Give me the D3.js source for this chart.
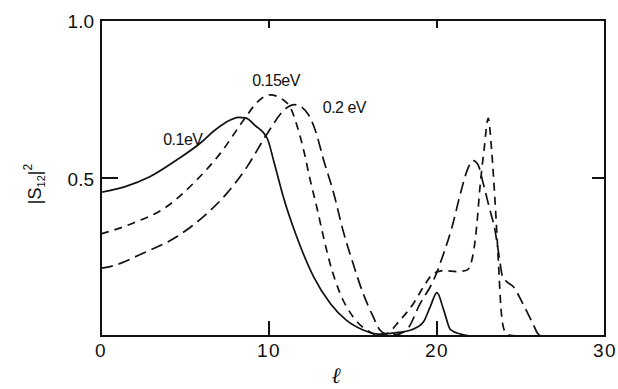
<!DOCTYPE html>
<html>
<head>
<meta charset="utf-8">
<script src="https://cdn.jsdelivr.net/npm/d3@7/dist/d3.min.js"></script>
<style>
  body { margin: 0; background: #fff; }
  svg text { font-family: "Liberation Sans", Arial, sans-serif; fill: #111; }
</style>
</head>
<body>
<div id="chart"></div>
<script>
// |S12|^2 vs l
var curve01 = [[0,0.455],[1.4,0.472],[2.9,0.504],[4.5,0.557],[5.9,0.61],[6.7,0.648],[7.4,0.675],[8.2,0.692],
  [8.6,0.69],[9.2,0.665],[9.9,0.625],[10.3,0.55],[10.85,0.441],[11.65,0.314],[12.65,0.188],[13.65,0.103],
  [14.6,0.05],[15.6,0.019],[16.5,0.006],[17.5,0.01],[18.5,0.02],[19.2,0.045],[19.6,0.093],[20.0,0.137],
  [20.4,0.082],[20.8,0.02],[21.4,0.006],[22,0]];

var curve015 = [[0,0.323],[1.9,0.357],[3.9,0.409],[5.7,0.494],[7.1,0.578],[8.5,0.684],[9.3,0.74],[10.06,0.763],
  [10.85,0.747],[11.3,0.72],[11.7,0.66],[12.1,0.58],[12.45,0.494],[12.84,0.409],[13.24,0.314],[13.63,0.23],
  [14.23,0.135],[15.0,0.061],[15.8,0.019],[16.5,0.004],[17.0,0.008],[17.8,0.05],[18.6,0.103],[19.2,0.156],
  [19.8,0.198],[20.4,0.207],[21.2,0.204],[21.8,0.209],[22.16,0.262],[22.36,0.346],[22.56,0.472],[22.8,0.589],
  [23.05,0.689],[23.25,0.589],[23.45,0.43],[23.65,0.24],[23.8,0.093],[24.0,0.019],[24.3,0.003],[24.8,0]];

var curve02 = [[0,0.215],[0.4,0.218],[2.5,0.262],[4.5,0.314],[6.1,0.378],[7.5,0.452],[8.7,0.536],[9.9,0.641],
  [11.0,0.72],[11.5,0.732],[12.0,0.722],[12.35,0.70],[12.75,0.652],[13.25,0.557],[13.85,0.452],[14.4,0.335],
  [15.0,0.23],[15.6,0.135],[16.2,0.061],[16.6,0.019],[17.0,0.006],[17.5,0.004],[18.2,0.02],[19.0,0.103],
  [19.8,0.177],[20.4,0.262],[20.9,0.346],[21.4,0.452],[21.8,0.525],[22.15,0.555],[22.45,0.541],[22.75,0.483],
  [23.1,0.409],[23.45,0.335],[23.7,0.251],[23.9,0.188],[24.15,0.172],[24.55,0.156],[25.1,0.103],[25.7,0.04],
  [26.0,0.008],[26.2,0]];

var xTicks = [0, 10, 20, 30];
var yTickLabels = [[0.5, "0.5"], [1.0, "1.0"]];
var seriesLabels = [["0.1eV", 3.7, 0.605], ["0.15eV", 9.0, 0.79], ["0.2 eV", 13.2, 0.707]];

var width = 618, height = 389;
var x = d3.scaleLinear().domain([0, 30]).range([101, 605]);
var y = d3.scaleLinear().domain([0, 1]).range([336, 20]);

var svg = d3.select("#chart").append("svg")
    .attr("width", width)
    .attr("height", height);

// frame
svg.append("rect")
    .attr("x", x(0)).attr("y", y(1))
    .attr("width", x(30) - x(0)).attr("height", y(0) - y(1))
    .attr("fill", "none").attr("stroke", "#111").attr("stroke-width", 2);

// inner ticks
svg.selectAll(".xtb").data([10, 20]).enter().append("line")
    .attr("x1", d => x(d)).attr("x2", d => x(d))
    .attr("y1", y(0)).attr("y2", y(0) - 15)
    .attr("stroke", "#111").attr("stroke-width", 2);
svg.selectAll(".xtt").data([10, 20]).enter().append("line")
    .attr("x1", d => x(d)).attr("x2", d => x(d))
    .attr("y1", y(1)).attr("y2", y(1) + 8)
    .attr("stroke", "#111").attr("stroke-width", 2);
svg.append("line")
    .attr("x1", x(0)).attr("x2", x(0) + 17)
    .attr("y1", y(0.5)).attr("y2", y(0.5))
    .attr("stroke", "#111").attr("stroke-width", 2);
svg.append("line")
    .attr("x1", x(30)).attr("x2", x(30) - 13)
    .attr("y1", y(0.5)).attr("y2", y(0.5))
    .attr("stroke", "#111").attr("stroke-width", 2);

// tick labels
svg.selectAll(".xl").data(xTicks).enter().append("text")
    .attr("x", d => x(d)).attr("y", 357)
    .attr("text-anchor", "middle")
    .style("font-size", "19px")
    .style("letter-spacing", "1.5px")
    .text(d => d);
svg.selectAll(".yl").data(yTickLabels).enter().append("text")
    .attr("x", 94).attr("y", d => y(d[0]) + 8)
    .attr("text-anchor", "end")
    .style("font-size", "19px")
    .text(d => d[1]);

// axis titles
var yt = svg.append("text")
    .attr("transform", "translate(41,184) rotate(-90)")
    .attr("text-anchor", "middle")
    .style("font-size", "18px");
yt.append("tspan").text("|S");
yt.append("tspan").attr("dy", 4).style("font-size", "11px").text("12");
yt.append("tspan").attr("dy", -4).text("|");
yt.append("tspan").attr("dy", -9).style("font-size", "12px").text("2");

svg.append("text")
    .attr("x", 336).attr("y", 383)
    .attr("text-anchor", "middle")
    .style("font-size", "22px")
    .style("font-style", "italic")
    .style("font-family", "DejaVu Serif, serif")
    .text("\u2113");

// curves
var line = d3.line()
    .x(d => x(d[0]))
    .y(d => y(d[1]))
    .curve(d3.curveMonotoneX);

svg.append("path").datum(curve01)
    .attr("d", line).attr("fill", "none")
    .attr("stroke", "#111").attr("stroke-width", 1.7);
svg.append("path").datum(curve015)
    .attr("d", line).attr("fill", "none")
    .attr("stroke", "#111").attr("stroke-width", 1.7)
    .attr("stroke-dasharray", "8,6");
svg.append("path").datum(curve02)
    .attr("d", line).attr("fill", "none")
    .attr("stroke", "#111").attr("stroke-width", 1.7)
    .attr("stroke-dasharray", "12,6");

// curve labels
svg.selectAll(".sl").data(seriesLabels).enter().append("text")
    .attr("x", d => x(d[1])).attr("y", d => y(d[2]))
    .style("font-size", "16px")
    .style("letter-spacing", "-0.5px")
    .text(d => d[0]);
</script>
</body>
</html>
